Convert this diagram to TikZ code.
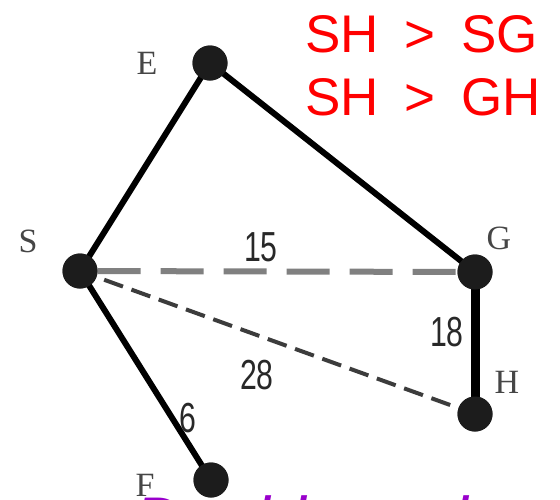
\documentclass[tikz,border=0pt]{standalone}
\usepackage{fontspec}
\setmainfont{Liberation Serif}
\setsansfont{Liberation Sans}
\definecolor{nodegray}{RGB}{28,28,28}
\definecolor{labelgray}{RGB}{70,70,70}
\definecolor{numgray}{RGB}{40,40,40}
\definecolor{dashgray}{RGB}{128,128,128}
\definecolor{dashdark}{RGB}{60,60,60}
\definecolor{purp}{RGB}{153,0,204}
\begin{document}
\begin{tikzpicture}[x=1pt,y=-1pt,
  dot/.style={circle, fill=nodegray, minimum size=35pt, inner sep=0pt},
  lbl/.style={font=\rmfamily\fontsize{34}{34}\selectfont, text=labelgray, inner sep=0pt},
  num/.style={font=\sffamily\fontsize{42}{42}\selectfont, text=numgray, inner sep=0pt},
  solidedge/.style={line width=6pt, black},
  thickedge/.style={line width=9pt, black},
  longdash/.style={line width=6pt, dashgray, dash pattern=on 43pt off 20pt},
  shortdash/.style={line width=4pt, dashdark, dash pattern=on 20pt off 9pt},
  redtxt/.style={font=\sffamily\fontsize{53}{53}\selectfont, text=red, inner sep=0pt, anchor=base west},
  purptxt/.style={font=\sffamily\itshape\fontsize{66}{66}\selectfont, text=purp, inner sep=0pt, anchor=base west}]
\useasboundingbox (0,0) rectangle (560,499);
\fill[white] (0,0) rectangle (560,499);

% vertices
\node[dot] (S) at (80,271) {};
\node[dot] (E) at (210,63) {};
\node[dot] (G) at (475,272) {};
\node[dot] (H) at (475,414) {};
\node[dot] (F) at (211,480) {};

% edges
\draw[longdash] (S) -- (G);
\draw[shortdash, shorten <=8pt] (S) -- (H);
\draw[solidedge] (S.center) -- (E.center);
\draw[solidedge] (E.center) -- (G.center);
\draw[solidedge] (S.center) -- (F.center);
\draw[thickedge] (G.center) -- (H.center);

% redraw vertices on top
\node[dot] at (S) {};
\node[dot] at (E) {};
\node[dot] at (G) {};
\node[dot] at (H) {};
\node[dot] at (F) {};

% vertex labels
\node[lbl] (lS) at (28,241) {S};
\node[lbl] (lE) at (147,63) {E};
\node[lbl] (lG) at (499,238) {G};
\node[lbl] (lH) at (507,382) {H};
\node[lbl] (lF) at (145,485) {F};

% weights
\node[num] (w15) at (261,247) {\scalebox{0.72}[1]{15}};
\node[num] (w18) at (447,332) {\scalebox{0.72}[1]{18}};
\node[num] (w28) at (257,375) {\scalebox{0.72}[1]{28}};
\node[num] (w6) at (188,418) {\scalebox{0.72}[1]{6}};

% red inequalities
\node[redtxt] (r1) at (305,52) {SH\hspace{11pt} > \hspace{11pt}SG};
\node[redtxt] (r2) at (305,115) {SH\hspace{11pt} > \hspace{11pt}GH};

% purple caption (cut off at the bottom)
\node[purptxt] (cap) at (134,543) {Double path};
\end{tikzpicture}
\end{document}
